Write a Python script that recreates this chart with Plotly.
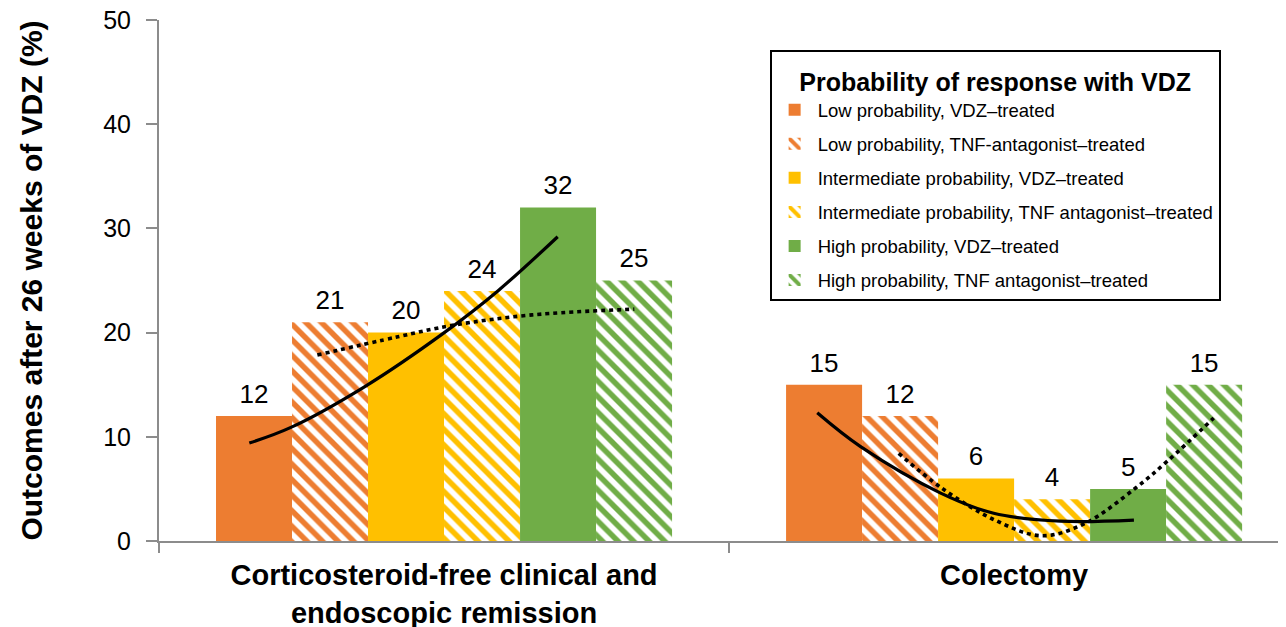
import plotly.graph_objects as go

# ---- data ----
categories = ["Corticosteroid-free clinical and<br>endoscopic remission", "Colectomy"]
series_names = [
    "Low probability, VDZ\u2013treated",
    "Low probability, TNF-antagonist\u2013treated",
    "Intermediate probability, VDZ\u2013treated",
    "Intermediate probability, TNF antagonist\u2013treated",
    "High probability, VDZ\u2013treated",
    "High probability, TNF antagonist\u2013treated",
]
low_vdz = [12, 15]
low_tnf = [21, 12]
int_vdz = [20, 6]
int_tnf = [24, 4]
high_vdz = [32, 5]
high_tnf = [25, 15]
series_values = [low_vdz, low_tnf, int_vdz, int_tnf, high_vdz, high_tnf]
series_colors = ["#ED7D31", "#ED7D31", "#FFC000", "#FFC000", "#70AD47", "#70AD47"]
series_hatched = [False, True, False, True, False, True]

# trend lines (x in category units, y in %)
trend_vdz_g1_x = [-0.338, -0.265, -0.136, 0.004, 0.098, 0.203]
trend_vdz_g1_y = [9.4, 10.9, 14.8, 20.0, 24.0, 29.2]
trend_tnf_g1_x = [-0.221, -0.08, 0.016, 0.156, 0.335]
trend_tnf_g1_y = [17.85, 19.6, 20.7, 21.7, 22.25]
trend_vdz_g2_x = [0.6535, 0.7295, 0.870, 0.963, 1.080, 1.209]
trend_vdz_g2_y = [12.3, 9.05, 4.6, 2.66, 1.9, 2.0]
trend_tnf_g2_x = [0.794, 0.870, 0.963, 1.045, 1.121, 1.209, 1.2675, 1.3465]
trend_tnf_g2_y = [8.4, 5.06, 2.0, 0.5, 1.7, 5.06, 7.77, 11.8]

x_range = [-0.5, 1.491]
sans = "Liberation Sans, Arial, sans-serif"
axis_grey = "#8C8C8C"

fig = go.Figure()

for i, (name, vals, col, hatch) in enumerate(zip(series_names, series_values, series_colors, series_hatched)):
    marker = dict(color=col, line=dict(width=0))
    if hatch:
        marker = dict(color=col, line=dict(width=0),
                      pattern=dict(shape="\\", fgcolor=col, bgcolor="white",
                                   size=11, solidity=0.5, fgopacity=1, fillmode="replace"))
    fig.add_trace(go.Bar(
        x=categories, y=vals, name=name, marker=marker,
        offsetgroup=str(i), alignmentgroup="a", legendgroup=name,
        hoverinfo="skip",
    ))

# value labels, grouped like the bars
for i, vals in enumerate(series_values):
    fig.add_trace(go.Scatter(
        x=categories, y=vals, mode="markers+text", text=[str(v) for v in vals],
        textposition="top center", textfont=dict(size=26, color="black", family=sans),
        marker=dict(size=9, opacity=0), offsetgroup=str(i), alignmentgroup="a",
        showlegend=False, hoverinfo="skip", cliponaxis=False,
    ))

for tx, ty, dash in [
    (trend_vdz_g1_x, trend_vdz_g1_y, "solid"),
    (trend_tnf_g1_x, trend_tnf_g1_y, "4px,4px"),
    (trend_vdz_g2_x, trend_vdz_g2_y, "solid"),
    (trend_tnf_g2_x, trend_tnf_g2_y, "4px,4px"),
]:
    fig.add_trace(go.Scatter(
        x=tx, y=ty, xaxis="x2", mode="lines", showlegend=False,
        line=dict(color="black", width=3.2 if dash == "solid" else 3.6,
                  dash=dash, shape="spline", smoothing=1.0),
        hoverinfo="skip",
    ))

fig.update_layout(
    width=1286, height=627,
    margin=dict(l=151, r=0, t=12, b=94),
    paper_bgcolor="white", plot_bgcolor="white",
    barmode="group", bargap=0.2, bargroupgap=0,
    scattermode="group", scattergap=0.2,
    font=dict(family=sans, color="black"),
    xaxis=dict(
        type="category", range=x_range, tickson="boundaries", automargin=False,
        ticks="outside", ticklen=10, tickwidth=2, tickcolor=axis_grey,
        showline=True, linecolor=axis_grey, linewidth=2, showgrid=False,
        ticklabelstandoff=7, ticklabeloverflow="allow",
        tickfont=dict(size=29, family=sans, color="black", weight="bold"),
    ),
    xaxis2=dict(overlaying="x", range=x_range, visible=False, type="linear"),
    yaxis=dict(
        range=[0, 50], dtick=10, ticks="outside", ticklen=11, tickwidth=2,
        tickcolor=axis_grey, showline=True, linecolor=axis_grey, linewidth=2,
        showgrid=False, zeroline=False, automargin=False, ticklabelstandoff=10,
        ticklabeloverflow="allow",
        tickfont=dict(size=25, color="black", family=sans),
        title=dict(text="Outcomes after 26 weeks of VDZ (%)", standoff=52,
                   font=dict(size=30, family=sans, color="black", weight="bold")),
    ),
    legend=dict(
        x=0.538, y=0.942, xanchor="left", yanchor="top",
        bordercolor="black", borderwidth=2, bgcolor="white",
        font=dict(size=18.5, family=sans, color="black"),
        title=dict(text="<span style='font-size:25px'><b>Probability of response with VDZ</b></span>",
                   side="top center",
                   font=dict(size=30, family=sans, color="black")),
        itemwidth=36, tracegroupgap=7,
    ),
    showlegend=True,
)

fig.write_html("out.html")
